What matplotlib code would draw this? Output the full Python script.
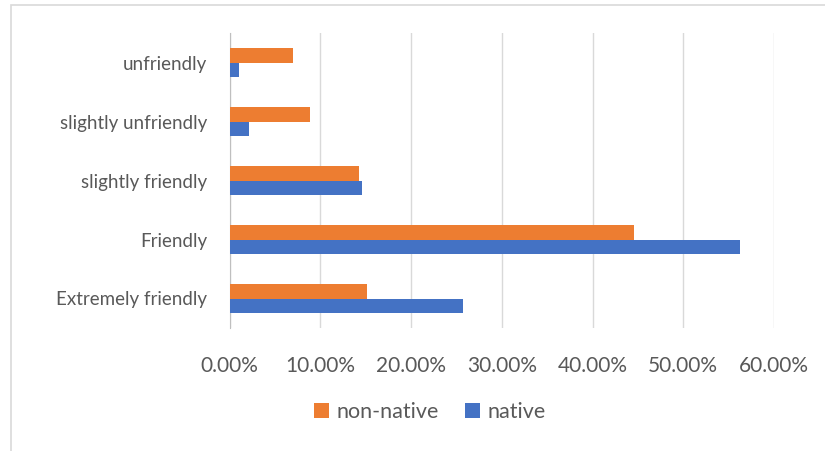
import matplotlib.pyplot as plt
import matplotlib.patches as patches
import numpy as np
from matplotlib.ticker import FuncFormatter

categories = ["Extremely friendly", "Friendly", "slightly friendly",
              "slightly unfriendly", "unfriendly"]
native = [25.7, 56.2, 14.55, 2.2, 1.05]
non_native = [15.2, 44.55, 14.25, 8.85, 7.05]

plt.rcParams['font.family'] = ['Lato', 'DejaVu Sans']
grey = '#595959'

fig = plt.figure(figsize=(8.25, 4.51), dpi=100)
ax = fig.add_axes([229.5/825, 1 - 328/451, (774 - 229.5)/825, (328 - 33)/451])

y = np.arange(len(categories))
h = 0.25
ax.barh(y - h/2, native, height=h, color='#4472C4', label='native', zorder=3)
ax.barh(y + h/2, non_native, height=h, color='#ED7D31', label='non-native', zorder=3)

ax.set_xlim(0, 60)
ax.set_ylim(-0.5, len(categories) - 0.5)
ax.set_xticks(range(0, 61, 10))
ax.xaxis.set_major_formatter(FuncFormatter(lambda v, p: '%.2f%%' % v))
ax.set_yticks(y)
ax.set_yticklabels(categories)
ax.grid(axis='x', color='#D9D9D9', linewidth=1, zorder=0)
for s in ['top', 'right', 'bottom']:
    ax.spines[s].set_visible(False)
ax.spines['left'].set_color('#BFBFBF')
ax.tick_params(axis='y', length=0, labelsize=13.5, labelcolor=grey, pad=16)
ax.tick_params(axis='x', length=0, labelsize=15, labelcolor=grey, pad=20)

handles, labels = ax.get_legend_handles_labels()
fig.legend(handles[::-1], labels[::-1], loc='center', bbox_to_anchor=(430/825, 1 - 412/451),
           ncol=2, frameon=False, fontsize=15.5, labelcolor=grey,
           handlelength=0.7, handleheight=0.7, handletextpad=0.35, columnspacing=1.2)

# chart border (right/bottom run off the image)
fig.add_artist(patches.Rectangle((11/825, -0.1), 1.0, 1 - 5/451 + 0.1,
                                 transform=fig.transFigure, fill=False,
                                 edgecolor='#D9D9D9', linewidth=1.2))

fig.savefig('out.png', dpi=100)
